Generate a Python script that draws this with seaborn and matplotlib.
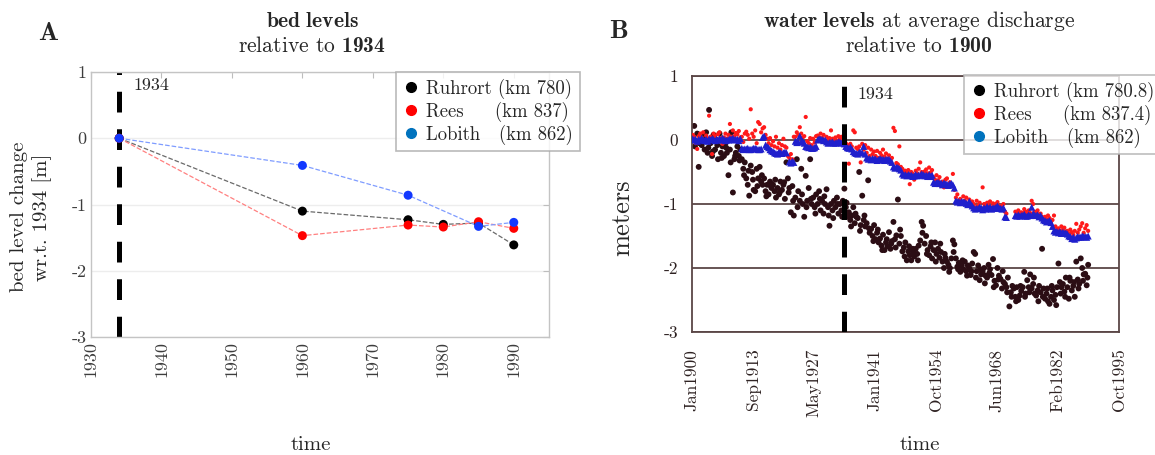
import numpy as np
import pandas as pd
import matplotlib
matplotlib.use('Agg')
import matplotlib.pyplot as plt
from matplotlib.lines import Line2D
import seaborn as sns

sns.set_style('white')
plt.rcParams['font.family'] = ['cmr10', 'DejaVu Serif']
plt.rcParams['mathtext.fontset'] = 'custom'
plt.rcParams['mathtext.rm'] = 'cmr10'
plt.rcParams['mathtext.bf'] = 'cmb10'
plt.rcParams['mathtext.it'] = 'cmr10:italic'
plt.rcParams['axes.unicode_minus'] = False

# ---- panel A: bed levels relative to 1934 ----
survey_year = [1934, 1960, 1975, 1980, 1985, 1990]
bed_ruhrort = [0.0, -1.10, -1.23, -1.30, -1.28, -1.61]
bed_rees = [0.0, -1.47, -1.31, -1.34, -1.26, -1.36]
bed_lobith = [0.0, -0.41, -0.86, np.nan, -1.33, -1.27]

ref_year = 1934
a_xticks = [1930, 1940, 1950, 1960, 1970, 1980, 1990]
yticks = [-3, -2, -1, 0, 1]

# ---- panel B: water levels at average discharge relative to 1900 ----
t_years = [
    1900.17, 1900.50, 1900.83, 1901.17, 1901.50, 1901.83, 1902.17, 1902.50, 1902.83, 1903.17, 1903.50, 1903.83,
    1904.17, 1904.50, 1904.83, 1905.17, 1905.50, 1905.83, 1906.17, 1906.50, 1906.83, 1907.17, 1907.50, 1907.83,
    1908.17, 1908.50, 1908.83, 1909.17, 1909.50, 1909.83, 1910.17, 1910.50, 1910.83, 1911.17, 1911.50, 1911.83,
    1912.17, 1912.50, 1912.83, 1913.17, 1913.50, 1913.83, 1914.17, 1914.50, 1914.83, 1915.17, 1915.50, 1915.83,
    1916.17, 1916.50, 1916.83, 1917.17, 1917.50, 1917.83, 1918.17, 1918.50, 1918.83, 1919.17, 1919.50, 1919.83,
    1920.17, 1920.50, 1920.83, 1921.17, 1921.50, 1921.83, 1922.17, 1922.50, 1922.83, 1923.17, 1923.50, 1923.83,
    1924.17, 1924.50, 1924.83, 1925.17, 1925.50, 1925.83, 1926.17, 1926.50, 1926.83, 1927.17, 1927.50, 1927.83,
    1928.17, 1928.50, 1928.83, 1929.17, 1929.50, 1929.83, 1930.17, 1930.50, 1930.83, 1931.17, 1931.50, 1931.83,
    1932.17, 1932.50, 1932.83, 1933.17, 1933.50, 1933.83, 1934.17, 1934.50, 1934.83, 1935.17, 1935.50, 1935.83,
    1936.17, 1936.50, 1936.83, 1937.17, 1937.50, 1937.83, 1938.17, 1938.50, 1938.83, 1939.17, 1939.50, 1939.83,
    1940.17, 1940.50, 1940.83, 1941.17, 1941.50, 1941.83, 1942.17, 1942.50, 1942.83, 1943.17, 1943.50, 1943.83,
    1944.17, 1944.50, 1944.83, 1945.17, 1945.50, 1945.83, 1946.17, 1946.50, 1946.83, 1947.17, 1947.50, 1947.83,
    1948.17, 1948.50, 1948.83, 1949.17, 1949.50, 1949.83, 1950.17, 1950.50, 1950.83, 1951.17, 1951.50, 1951.83,
    1952.17, 1952.50, 1952.83, 1953.17, 1953.50, 1953.83, 1954.17, 1954.50, 1954.83, 1955.17, 1955.50, 1955.83,
    1956.17, 1956.50, 1956.83, 1957.17, 1957.50, 1957.83, 1958.17, 1958.50, 1958.83, 1959.17, 1959.50, 1959.83,
    1960.17, 1960.50, 1960.83, 1961.17, 1961.50, 1961.83, 1962.17, 1962.50, 1962.83, 1963.17, 1963.50, 1963.83,
    1964.17, 1964.50, 1964.83, 1965.17, 1965.50, 1965.83, 1966.17, 1966.50, 1966.83, 1967.17, 1967.50, 1967.83,
    1968.17, 1968.50, 1968.83, 1969.17, 1969.50, 1969.83, 1970.17, 1970.50, 1970.83, 1971.17, 1971.50, 1971.83,
    1972.17, 1972.50, 1972.83, 1973.17, 1973.50, 1973.83, 1974.17, 1974.50, 1974.83, 1975.17, 1975.50, 1975.83,
    1976.17, 1976.50, 1976.83, 1977.17, 1977.50, 1977.83, 1978.17, 1978.50, 1978.83, 1979.17, 1979.50, 1979.83,
    1980.17, 1980.50, 1980.83, 1981.17, 1981.50, 1981.83, 1982.17, 1982.50, 1982.83, 1983.17, 1983.50, 1983.83,
    1984.17, 1984.50, 1984.83, 1985.17, 1985.50, 1985.83, 1986.17, 1986.50, 1986.83, 1987.17, 1987.50, 1987.83,
    1988.17, 1988.50, 1988.83,
]

ruhrort = [
    0.05, 0.22, -0.02, 0.10, -0.42, 0.00, -0.08, 0.05, -0.15, 0.12, -0.20, 0.47,          # 1900-03
    -0.05, -0.25, 0.08, -0.15, 0.00, -0.30, 0.10, -0.20, -0.10, -0.25, -0.05, -0.20,      # 1904-07
    -0.55, -0.15, 0.12, -0.82, -0.30, -0.20, -0.10, -0.25, -0.15, -0.30, -0.45, -0.35,    # 1908-11
    -0.60, -0.70, -0.87, -0.40, -0.50, -0.78, -0.80, -0.45, -0.60, -0.42, -0.65, -0.70,   # 1912-15
    -0.60, -0.80, -0.70, -0.85, -0.65, -0.75, -0.70, -0.80, -0.90, -0.75, -0.85, -0.65,   # 1916-19
    -0.78, -0.70, -0.92, -0.35, -0.60, -0.75, -1.13, -0.72, -1.18, -0.90, -0.30, -0.80,   # 1920-23
    -0.95, -0.45, -1.00, -1.20, -0.56, -0.95, -0.75, -0.30, -1.00, -0.90, -1.05, -0.85,   # 1924-27
    -1.00, -0.80, -1.10, -0.95, -1.15, -1.00, -0.77, -1.05, -1.34, -1.00, -1.10, -0.95,   # 1928-31
    -1.05, -0.90, -1.15, -1.00, -1.10, -0.95, -0.76, -1.05, -1.20, -1.13, -1.25, -1.18,   # 1932-35
    -1.05, -1.30, -1.20, -1.22, -0.50, -1.33, -0.87, -1.25, -1.35, -1.30, -0.63, -1.45,   # 1936-39
    -1.39, -1.50, -1.33, -1.55, -1.45, -1.60, -1.54, -1.65, -1.48, -1.72, -1.60, -1.66,   # 1940-43
    -1.44, -1.70, -1.58, -1.28, -1.55, -1.49, -0.93, -1.62, -1.50, -1.74, -1.68, -1.60,   # 1944-47
    -1.88, -1.74, -1.80, -1.88, -1.70, -1.82, -1.70, -1.78, -1.65, -1.57, -1.28, -1.34,   # 1948-51
    -1.62, -1.50, -1.72, -1.80, -1.66, -1.85, -1.72, -1.60, -1.78, -1.70, -1.84, -1.75,   # 1952-55
    -1.90, -2.00, -1.84, -1.90, -1.95, -2.00, -1.85, -1.57, -1.63, -1.85, -1.98, -1.92,   # 1956-59
    -2.06, -1.96, -2.02, -1.90, -2.05, -1.96, -2.00, -2.11, -1.93, -1.75, -1.78, -2.05,   # 1960-63
    -1.96, -2.19, -2.10, -2.06, -2.00, -2.12, -2.15, -1.95, -2.02, -2.11, -1.86, -2.20,   # 1964-67
    -2.27, -2.00, -2.12, -2.17, -2.32, -2.22, -2.25, -2.30, -2.15, -2.60, -2.38, -2.28,   # 1968-71
    -2.32, -2.45, -2.30, -2.50, -2.43, -2.36, -2.30, -2.06, -2.40, -2.19, -2.30, -2.10,   # 1972-75
    -2.32, -2.25, -2.40, -2.43, -2.35, -2.28, -2.38, -1.70, -2.32, -2.48, -2.40, -2.52,   # 1976-79
    -2.56, -2.45, -2.35, -2.50, -2.42, -2.30, -1.93, -2.22, -2.30, -2.25, -2.37, -2.15,   # 1980-83
    -2.30, -2.48, -2.20, -2.35, -2.28, -2.45, -1.90, -2.18, -2.25, -1.85, -2.00, -2.10,   # 1984-87
    -2.09, -2.27, -1.95,                                                                  # 1988
]

# additional Ruhrort readings taken between the regular ones
ruhrort_extra_t = [
    1900.67, 1901.67, 1902.67, 1903.67, 1904.67, 1905.67, 1906.67, 1907.67, 1908.67, 1909.67,
    1910.67, 1911.67, 1912.67, 1913.67, 1914.67, 1915.67, 1916.67, 1917.67, 1918.67, 1919.67,
    1920.67, 1921.67, 1922.67, 1923.67, 1924.67, 1925.67, 1926.67, 1927.67, 1928.67, 1929.67,
    1930.67, 1931.67, 1932.67, 1933.67, 1934.67, 1935.67, 1936.67, 1937.67, 1938.67, 1939.67,
    1940.67, 1941.67, 1942.67, 1943.67, 1944.67, 1945.67, 1946.67, 1947.67, 1948.67, 1949.67,
    1950.67, 1951.67, 1952.67, 1953.67, 1954.67, 1955.67, 1956.67, 1957.67, 1958.67, 1959.67,
    1960.67, 1961.67, 1962.67, 1963.67, 1964.67, 1965.67, 1966.67, 1967.67, 1968.67, 1969.67,
    1970.67, 1971.67, 1972.67, 1973.67, 1974.67, 1975.67, 1976.67, 1977.67, 1978.67, 1979.67,
    1980.67, 1981.67, 1982.67, 1983.67, 1984.67, 1985.67, 1986.67, 1987.67, 1988.67,
]
ruhrort_extra = [
    -0.10, -0.05, 0.02, -0.12, -0.18, -0.08, -0.28, -0.12, -0.35, -0.25,
    -0.32, -0.55, -0.48, -0.62, -0.72, -0.55, -0.88, -0.72, -0.62, -0.82,
    -0.66, -0.82, -0.95, -1.05, -0.85, -1.05, -0.92, -1.15, -0.92, -0.88,
    -1.18, -1.22, -1.00, -1.20, -0.98, -1.35, -1.15, -1.42, -1.18, -1.38,
    -1.58, -1.40, -1.72, -1.55, -1.62, -1.68, -1.40, -1.82, -1.66, -1.76,
    -1.88, -1.45, -1.78, -1.60, -1.90, -1.62, -1.78, -2.06, -1.75, -2.02,
    -1.88, -2.12, -2.05, -2.15, -2.02, -2.24, -2.08, -2.30, -2.18, -2.05,
    -2.38, -2.45, -2.52, -2.28, -2.45, -2.38, -2.15, -2.52, -2.45, -2.32,
    -2.28, -2.58, -2.40, -2.45, -2.15, -2.22, -2.32, -2.20, -2.15,
]

rees = [
    0.08, 0.05, -0.05, -0.14, 0.06, 0.10, 0.04, 0.12, -0.03, 0.07, 0.02, 0.38,            # 1900-03
    0.05, -0.22, 0.10, 0.06, -0.02, 0.09, 0.12, 0.03, -0.06, 0.04, 0.10, 0.02,            # 1904-07
    0.08, 0.25, 0.05, 0.15, 0.06, 0.11, 0.09, 0.14, 0.04, 0.05, -0.03, 0.10,              # 1908-11
    0.13, 0.08, 0.02, 0.48, 0.10, 0.05, 0.15, -0.05, 0.28, 0.25, 0.12, 0.18,              # 1912-15
    0.20, 0.08, 0.02, -0.05, 0.03, -0.08, -0.02, -0.10, 0.05, -0.12, -0.05, -0.15,        # 1916-19
    -0.08, 0.02, -0.10, -0.12, -0.25, -0.28, -0.22, -0.30, 0.05, 0.05, 0.12, 0.08,        # 1920-23
    0.20, 0.10, 0.04, 0.06, 0.36, -0.02, -0.05, 0.03, -0.08, 0.02, -0.04, 0.06,           # 1924-27
    0.07, 0.04, 0.10, 0.03, 0.08, -0.02, 0.05, 0.00, 0.03, 0.15, 0.02, -0.02,             # 1928-31
    0.04, -0.01, 0.06, 0.02, 0.05, 0.00, 0.01, -0.05, -0.08, -0.37, -0.06, -0.10,         # 1932-35
    0.15, 0.12, -0.12, -0.14, -0.10, -0.35, -0.06, -0.15, -0.08, -0.20, -0.12, -0.25,     # 1936-39
    -0.15, -0.22, -0.18, -0.25, -0.17, -0.28, -0.20, -0.24, -0.15, -0.26, -0.21, -0.30,   # 1940-43
    -0.24, -0.32, -0.28, 0.19, 0.14, -0.36, -0.38, -0.10, -0.42, -0.45, -0.50, -0.48,     # 1944-47
    -0.52, -0.47, -0.69, -0.50, -0.53, -0.62, -0.48, -0.52, -0.45, -0.35, -0.50, -0.55,   # 1948-51
    -0.49, -0.46, -0.52, -0.43, -0.51, -0.47, -0.58, -0.62, -0.55, -0.63, -0.58, -0.72,   # 1952-55
    -0.65, -0.74, -0.62, -0.60, -0.70, -0.66, -0.72, -0.53, -0.78, -0.90, -0.85, -0.95,   # 1956-59
    -0.92, -0.97, -0.88, -0.95, -0.90, -1.00, -0.93, -1.02, -0.96, -1.00, -1.05, -0.95,   # 1960-63
    -1.02, -0.98, -1.06, -0.74, -1.00, -1.04, -0.98, -1.03, -0.96, -1.05, -0.99, -1.02,   # 1964-67
    -1.00, -0.97, -1.04, -1.03, -1.06, -1.00, -1.12, -1.15, np.nan, np.nan, np.nan, np.nan,  # 1968-71
    np.nan, -1.12, -1.15, -1.10, -1.16, -1.13, -1.14, -1.08, -1.12, -1.15, -1.10, -1.14,  # 1972-75
    -0.95, -1.00, -1.12, -1.13, -1.10, -1.16, -1.15, -1.20, -1.22, -1.20, -1.24, -1.18,   # 1976-79
    -1.22, -1.30, -1.25, -1.18, -1.35, -1.40, -1.38, -1.42, -1.35, -1.40, -1.37, -1.43,   # 1980-83
    -1.42, -1.46, -1.40, -1.44, -1.48, -1.42, -1.31, -1.45, -1.40, -1.35, -1.30, -1.45,   # 1984-87
    -1.38, -1.33, -1.42,                                                                  # 1988
]

lobith = [
    0.02, 0.00, 0.01, -0.02, 0.01, 0.00, 0.03, 0.00, -0.01, 0.01, -0.02, 0.02,            # 1900-03
    0.00, 0.02, 0.01, -0.01, 0.01, 0.00, 0.02, 0.00, 0.03, 0.01, -0.01, 0.00,             # 1904-07
    0.00, 0.02, 0.01, 0.03, 0.00, 0.01, 0.01, -0.01, 0.02, -0.13, -0.15, -0.14,           # 1908-11
    -0.14, -0.13, -0.15, -0.15, -0.14, -0.13, -0.13, -0.14, -0.15, -0.15, -0.14, 0.04,    # 1912-15
    0.06, -0.08, -0.10, -0.12, -0.15, -0.17, -0.18, -0.20, -0.21, -0.22, -0.19, -0.20,    # 1916-19
    -0.21, -0.20, -0.19, -0.20, np.nan, -0.34, -0.36, -0.33, -0.35, -0.02, -0.04, -0.03,  # 1920-23
    0.06, -0.03, -0.02, -0.05, -0.10, -0.11, -0.12, -0.11, -0.13, -0.13, -0.12, -0.10,    # 1924-27
    0.00, 0.02, 0.01, 0.01, -0.01, 0.00, -0.03, -0.05, -0.04, -0.04, -0.03, -0.05,        # 1928-31
    -0.05, -0.04, -0.03, -0.03, -0.05, -0.04, -0.06, -0.10, -0.12, -0.13, -0.11, -0.14,   # 1932-35
    -0.18, -0.20, -0.21, -0.22, -0.19, -0.20, -0.20, -0.10, -0.22, -0.28, -0.30, -0.29,   # 1936-39
    -0.31, -0.29, -0.30, -0.30, -0.32, -0.31, -0.29, -0.31, -0.30, -0.32, -0.30, -0.31,   # 1940-43
    -0.30, -0.33, -0.35, -0.42, -0.44, -0.43, -0.43, -0.45, -0.47, -0.53, -0.55, -0.54,   # 1944-47
    -0.56, -0.54, -0.55, -0.55, -0.57, -0.56, -0.54, -0.56, -0.55, -0.55, -0.53, -0.54,   # 1948-51
    -0.56, -0.55, -0.57, -0.54, -0.57, -0.55, -0.66, -0.68, -0.67, -0.66, -0.68, -0.67,   # 1952-55
    -0.70, -0.67, -0.69, -0.69, -0.71, -0.68, -0.68, -0.70, -0.75, -0.95, -0.97, -0.96,   # 1956-59
    -0.98, -0.96, -0.97, -0.97, -0.99, -1.01, -0.96, -1.00, -1.03, -1.06, -1.08, -1.07,   # 1960-63
    -1.07, -1.05, -1.06, -1.09, -1.06, -1.08, -1.04, -1.07, -1.05, -1.08, -1.06, -1.07,   # 1964-67
    -1.05, -1.03, -1.06, -1.07, -1.08, -1.06, -1.20, -1.21, np.nan, np.nan, np.nan, np.nan,  # 1968-71
    np.nan, -1.18, -1.19, -1.17, -1.19, -1.18, -1.18, -1.16, -1.19, -1.19, -1.17, -1.18,  # 1972-75
    -1.05, -1.15, -1.17, -1.18, -1.17, -1.20, -1.18, -1.22, -1.25, -1.26, -1.28, -1.27,   # 1976-79
    -1.26, -1.29, -1.35, -1.42, -1.44, -1.43, -1.45, -1.43, -1.46, -1.44, -1.46, -1.45,   # 1980-83
    -1.47, -1.50, -1.51, -1.54, -1.52, -1.55, -1.53, -1.51, -1.52, -1.52, -1.50, -1.51,   # 1984-87
    -1.51, -1.52, -1.50,                                                                  # 1988
]

b_tick_pos = [1900.0, 1913.68, 1927.36, 1941.04, 1954.71, 1968.39, 1982.07, 1995.75]
b_tick_labels = ['Jan1900', 'Sep1913', 'May1927', 'Jan1941', 'Oct1954', 'Jun1968', 'Feb1982', 'Oct1995']

stations_a = ['Ruhrort (km 780)', 'Rees     (km 837)', 'Lobith   (km 862)']
stations_b = ['Ruhrort (km 780.8)', 'Rees     (km 837.4)', 'Lobith   (km 862)']
legend_colors = ['#000000', '#ff0000', '#0072bd']

W, H = 1155, 455
fig = plt.figure(figsize=(W / 100, H / 100), dpi=100)
fig.patch.set_facecolor('white')
ref_dash = (0, (4.15, 3.35))

# ================= panel A =================
axA = fig.add_axes([91 / W, 1 - 337 / H, 458 / W, 265 / H])
dfA = pd.DataFrame({'year': survey_year * 3,
                    'change': bed_ruhrort + bed_rees + bed_lobith,
                    'station': ['Ruhrort'] * 6 + ['Rees'] * 6 + ['Lobith'] * 6}).dropna()
line_pal = {'Ruhrort': '#6a6a6a', 'Rees': '#ff8080', 'Lobith': '#7f9cff'}
dot_pal = {'Ruhrort': '#000000', 'Rees': '#ff0000', 'Lobith': '#1238ff'}

axA.axvline(ref_year, color='black', lw=3.6, linestyle=ref_dash, zorder=1)
sns.lineplot(data=dfA, x='year', y='change', hue='station', palette=line_pal,
             estimator=None, sort=True, linestyle='--', lw=0.9, legend=False, ax=axA, zorder=2)
sns.scatterplot(data=dfA, x='year', y='change', hue='station', palette=dot_pal,
                s=42, edgecolor='none', legend=False, ax=axA, zorder=3)
axA.text(ref_year + 2, 0.80, '1934', fontsize=13, va='center', ha='left')

axA.set_xlim(1930, 1995)
axA.set_ylim(-3, 1)
axA.set_xticks(a_xticks, [str(v) for v in a_xticks], rotation=90)
axA.set_yticks(yticks, [str(v) for v in yticks])
axA.set_xlabel('')
axA.set_ylabel('')
axA.yaxis.grid(True, color='#ededed', lw=1)
axA.tick_params(direction='in', length=4, width=0.8, colors='#bdbdbd', labelcolor='#3c3c3c',
                labelsize=13, top=True, right=True, pad=3)
for sp in axA.spines.values():
    sp.set_color('#c4c4c4')
    sp.set_linewidth(1.0)

handlesA = [Line2D([], [], ls='none', marker='o', ms=7, color=c) for c in legend_colors]
legA = axA.legend(handlesA, stations_a, loc='upper left', bbox_to_anchor=(0.667, 1.0),
                  fontsize=13.5, frameon=True, fancybox=False, borderaxespad=0,
                  handlelength=0.9, handletextpad=0.35, labelspacing=0.15, borderpad=0.35)
legA.get_frame().set_edgecolor('#a8a8a8')
legA.get_frame().set_linewidth(1.2)

fig.text(312 / W, 1 - 21 / H, r'$\mathbf{bed\ levels}$', ha='center', va='center', fontsize=15.5)
fig.text(312 / W, 1 - 46 / H, r'relative to $\mathbf{1934}$', ha='center', va='center', fontsize=15.5)
fig.text(48 / W, 1 - 33 / H, 'A', family=['cmb10', 'DejaVu Serif'], fontsize=19,
         ha='center', va='center')
fig.text(31 / W, 1 - 217 / H, 'bed level change\nwr.t. 1934 [m]', rotation=90, ha='center',
         va='center', multialignment='center', fontsize=15, linespacing=1.3)
fig.text(311 / W, 1 - 445 / H, 'time', ha='center', va='center', fontsize=15)

# ================= panel B =================
axB = fig.add_axes([692 / W, 1 - 332 / H, 427 / W, 256 / H])
dfB = pd.DataFrame({'time': t_years, 'Ruhrort': ruhrort, 'Rees': rees, 'Lobith': lobith})
dfB_extra = pd.DataFrame({'time': ruhrort_extra_t, 'Ruhrort': ruhrort_extra})
frame_col = '#5a4646'

axB.yaxis.grid(True, color=frame_col, lw=1.3, zorder=0)
axB.set_axisbelow(True)
sns.scatterplot(data=dfB, x='time', y='Ruhrort', color='#2b0d14', s=18, edgecolor='none',
                ax=axB, zorder=2)
sns.scatterplot(data=dfB_extra, x='time', y='Ruhrort', color='#2b0d14', s=18, edgecolor='none',
                ax=axB, zorder=2)
sns.scatterplot(data=dfB, x='time', y='Rees', color='#ff1a1a', s=9, edgecolor='none',
                ax=axB, zorder=3)
sns.scatterplot(data=dfB, x='time', y='Lobith', color='#1f1fcc', marker='^', s=26,
                edgecolor='none', ax=axB, zorder=4)
axB.vlines(ref_year, -3, 0.85, color='black', lw=3.6, linestyle=ref_dash, zorder=5)
axB.text(ref_year + 3, 0.72, '1934', fontsize=13, va='center', ha='left', zorder=6)

axB.set_xlim(b_tick_pos[0], b_tick_pos[-1])
axB.set_ylim(-3, 1)
axB.set_xticks(b_tick_pos, b_tick_labels, rotation=90)
axB.set_yticks(yticks, [str(v) for v in yticks])
axB.set_xlabel('')
axB.set_ylabel('')
axB.tick_params(axis='x', direction='inout', length=8, width=1.2, colors=frame_col,
                labelcolor='#2e2222', labelsize=12.5, pad=8)
axB.tick_params(axis='y', direction='inout', length=6, width=1.2, colors=frame_col,
                labelcolor='#2e2222', labelsize=12.5, pad=7)
for sp in axB.spines.values():
    sp.set_color(frame_col)
    sp.set_linewidth(1.3)

handlesB = [Line2D([], [], ls='none', marker='o', ms=7, color=c) for c in legend_colors]
legB = axB.legend(handlesB, stations_b, loc='upper left', bbox_to_anchor=(0.637, 1.004),
                  fontsize=13.5, frameon=True, fancybox=False, borderaxespad=0,
                  handlelength=0.9, handletextpad=0.35, labelspacing=0.15, borderpad=0.35)
legB.get_frame().set_edgecolor('#b4b4b4')
legB.get_frame().set_linewidth(1.3)
legB.set_zorder(10)

fig.text(919 / W, 1 - 21 / H, r'$\mathbf{water\ levels}$ at average discharge', ha='center',
         va='center', fontsize=15.5)
fig.text(919 / W, 1 - 46 / H, r'relative to $\mathbf{1900}$', ha='center', va='center', fontsize=15.5)
fig.text(619 / W, 1 - 32 / H, 'B', family=['cmb10', 'DejaVu Serif'], fontsize=19,
         ha='center', va='center')
fig.text(622 / W, 1 - 218 / H, 'meters', rotation=90, ha='center', va='center', fontsize=19)
fig.text(920 / W, 1 - 445 / H, 'time', ha='center', va='center', fontsize=15)

fig.savefig('out.png', dpi=100, facecolor='white')
